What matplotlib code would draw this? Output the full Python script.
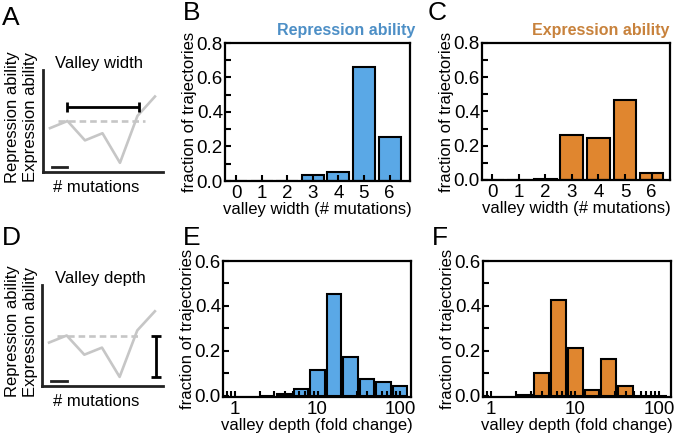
import numpy as np
import matplotlib.pyplot as plt
from matplotlib.ticker import MultipleLocator, LogLocator, NullFormatter

plt.rcParams['font.family'] = ['Liberation Sans', 'DejaVu Sans']

W, H = 677, 436

# valley width histograms (fraction of trajectories per # mutations)
width_bins = [0, 1, 2, 3, 4, 5, 6]
width_rep = [0, 0, 0, 0.037, 0.053, 0.663, 0.255]
width_expr = [0, 0, 0.004, 0.26, 0.245, 0.47, 0.04]

# valley depth histograms, bins centred at 10**depth_log
depth_log = [0.4, 0.6, 0.8, 1.0, 1.2, 1.4, 1.6, 1.8, 2.0]
depth_rep = [0, 0.009, 0.031, 0.113, 0.452, 0.172, 0.076, 0.061, 0.043]
depth_expr = [0.003, 0.101, 0.425, 0.214, 0.024, 0.162, 0.043, 0, 0]

# schematic fitness trace
steps = [0, 1, 2, 3, 4, 5, 6]
trace = [0.43, 0.5, 0.31, 0.38, 0.09, 0.55, 0.74]
start_level = 0.5

blue = '#5aa8e6'
orange = '#e0862f'
blue_t = '#4d8fc6'
orange_t = '#c8823c'
gray = '#c6c6c6'


def box(l, t, r, b):
    return [l / W, 1 - b / H, (r - l) / W, (b - t) / H]


fig = plt.figure(figsize=(W / 100, H / 100), dpi=100)


def style(ax):
    for s in ax.spines.values():
        s.set_linewidth(1.6)
    ax.tick_params(which='both', direction='in', top=False, right=False,
                   width=1.5, labelsize=13.5)
    ax.tick_params(which='major', length=4)
    ax.tick_params(which='minor', length=4)
    ax.tick_params(axis='x', pad=3)
    ax.tick_params(axis='y', pad=1.5)
    ax.yaxis.set_major_locator(MultipleLocator(0.2))
    ax.yaxis.set_minor_locator(MultipleLocator(0.1))
    ax.set_ylabel('fraction of trajectories', fontsize=12, labelpad=0)


def width_panel(pos, vals, color, xl):
    ax = fig.add_axes(box(*pos))
    ax.bar(width_bins, vals, width=0.86, color=color, edgecolor='k', linewidth=1.5)
    ax.set_xlim(*xl)
    ax.set_ylim(0, 0.8)
    ax.set_xticks(width_bins)
    style(ax)
    ax.yaxis.set_major_formatter(plt.FuncFormatter(lambda v, p: '%.1f' % v))
    ax.set_xlabel('valley width (# mutations)', fontsize=12, labelpad=0)
    return ax


def depth_panel(pos, vals, color, xl):
    ax = fig.add_axes(box(*pos))
    c = np.array(depth_log)
    left = 10 ** (c - 0.089)
    right = 10 ** (c + 0.089)
    ax.bar(left, vals, width=right - left, align='edge', color=color,
           edgecolor='k', linewidth=1.5)
    ax.set_xscale('log')
    ax.set_xlim(*xl)
    ax.set_ylim(-0.006, 0.6)
    ax.set_xticks([1, 10, 100], ['1', '10', '100'])
    ax.xaxis.set_minor_locator(LogLocator(base=10, subs=np.arange(2, 10)))
    ax.xaxis.set_minor_formatter(NullFormatter())
    style(ax)
    ax.yaxis.set_major_formatter(plt.FuncFormatter(lambda v, p: '%.1f' % v))
    ax.set_xlabel('valley depth (fold change)', fontsize=12, labelpad=0)
    return ax


width_panel((225, 43, 410, 181), width_rep, blue, (-0.43, 6.8))
width_panel((482, 43, 670, 180), width_expr, orange, (-0.38, 6.69))
depth_panel((223, 261, 411, 397), depth_rep, blue, (0.715, 136))
depth_panel((483, 261, 671, 397), depth_expr, orange, (0.80, 138))

fig.text(415 / W, 1 - 35 / H, 'Repression ability', color=blue_t, fontsize=11.5,
         fontweight='bold', ha='right', va='baseline')
fig.text(669 / W, 1 - 35 / H, 'Expression ability', color=orange_t, fontsize=11.5,
         fontweight='bold', ha='right', va='baseline')


def schematic(pos, title, kind):
    ax = fig.add_axes(box(*pos))
    ax.set_xlim(-0.4, 6.46)
    ax.set_ylim(0, 1)
    for s in ['top', 'right']:
        ax.spines[s].set_visible(False)
    for s in ['left', 'bottom']:
        ax.spines[s].set_linewidth(2)
        ax.spines[s].set_color('#222222')
    ax.set_xticks([])
    ax.set_yticks([])
    ax.patch.set_alpha(0)
    ax.plot(steps, trace, color=gray, lw=1.9, clip_on=False)
    ax.plot([0.46, 5.43 if kind == 'width' else 5.15], [start_level, start_level],
            color=gray, lw=1.9, ls=(0, (2.5, 1.5)))
    ax.plot([0.1, 1.0], [0.05, 0.05], color='#222222', lw=2)
    if kind == 'width':
        ax.errorbar(3.05, 0.64, xerr=2.05, color='k', lw=2, capsize=3.5,
                    capthick=2)
    else:
        lo = min(trace)
        ax.errorbar(6.08, (start_level + lo) / 2, yerr=(start_level - lo) / 2,
                    color='k', lw=2, capsize=3.5, capthick=2)
    l, t, r, b = pos
    fig.text(55 / W, 1 - (t - 2) / H, title, fontsize=12, ha='left', va='baseline')
    fig.text(53 / W, 1 - (b + 20) / H, '# mutations', fontsize=12, ha='left',
             va='baseline')
    yc = 1 - ((t + b) / 2 - 4) / H
    fig.text(13 / W, yc, 'Repression ability', fontsize=12, rotation=90,
             ha='center', va='center')
    fig.text(31 / W, yc, 'Expression ability', fontsize=12, rotation=90,
             ha='center', va='center')


schematic((43, 70, 163, 172), 'Valley width', 'width')
schematic((42, 285, 163, 386), 'Valley depth', 'depth')

for lab, x, y in [('A', 2, 25), ('B', 183, 20), ('C', 428, 20),
                  ('D', 2, 245), ('E', 183, 245), ('F', 432, 245)]:
    fig.text(x / W, 1 - y / H, lab, fontsize=19, ha='left', va='baseline')

fig.savefig('out.png', dpi=100)
